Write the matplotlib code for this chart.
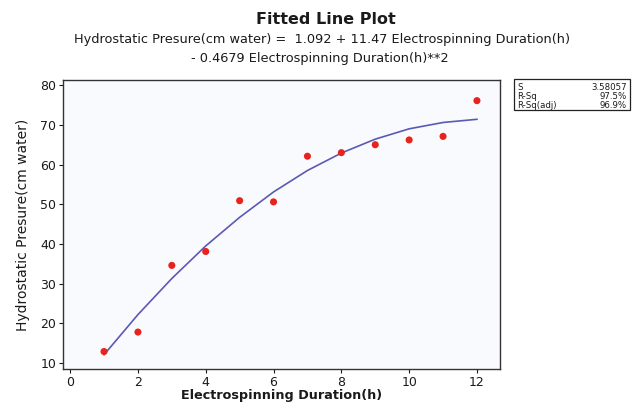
import matplotlib.pyplot as plt
from matplotlib.patches import Rectangle

duration = [1, 2, 3, 4, 5, 6, 7, 8, 9, 10, 11, 12]
pressure = [12.9, 17.8, 34.6, 38.1, 50.9, 50.6, 62.1, 63.0, 65.0, 66.2, 67.1, 76.1]
fitted = [12.1, 22.2, 31.3, 39.5, 46.7, 53.1, 58.5, 62.9, 66.4, 69.0, 70.6, 71.4]

x_ticks = [0, 2, 4, 6, 8, 10, 12]
y_ticks = [10, 20, 30, 40, 50, 60, 70, 80]

stat_labels = ["S", "R-Sq", "R-Sq(adj)"]
stat_values = ["3.58057", "97.5%", "96.9%"]

W, H = 635, 411

COLORS = {
    "point": "#E8231E",
    "line": "#5A5AB4",
    "text": "#1A1A1A",
    "axes_bg": "#F9FAFD",
}


def main():
    fig = plt.figure(figsize=(W / 100, H / 100), dpi=100)
    fig.patch.set_facecolor("white")

    left, right, top, bottom = 63, 500, 80, 369
    ax = fig.add_axes([left / W, 1 - bottom / H, (right - left) / W, (bottom - top) / H])
    ax.set_facecolor(COLORS["axes_bg"])

    ax.plot(duration, fitted, color=COLORS["line"], lw=1.2, zorder=2)
    ax.scatter(duration, pressure, s=26, color=COLORS["point"], edgecolors="none", zorder=3)

    ax.set_xlim(-0.21, 12.68)
    ax.set_ylim(8.5, 81.3)
    ax.set_xticks(x_ticks)
    ax.set_yticks(y_ticks)
    ax.tick_params(labelsize=9, length=3, width=0.8, colors=COLORS["text"], pad=2)
    for sp in ax.spines.values():
        sp.set_linewidth(1.0)
        sp.set_color("#333333")

    ax.set_xlabel("Electrospinning Duration(h)", fontsize=9.2, fontweight="semibold",
                  color=COLORS["text"], labelpad=0)
    ax.set_ylabel("Hydrostatic Presure(cm water)", fontsize=10, fontweight="medium",
                  color=COLORS["text"], labelpad=7)

    # titles
    fig.text(326 / W, 1 - 19 / H, "Fitted Line Plot", ha="center", va="center",
             fontsize=11.5, fontweight="bold", color=COLORS["text"])
    fig.text(322 / W, 1 - 40 / H,
             "Hydrostatic Presure(cm water) =  1.092 + 11.47 Electrospinning Duration(h)",
             ha="center", va="center", fontsize=9.3, color=COLORS["text"])
    fig.text(320 / W, 1 - 58 / H, "- 0.4679 Electrospinning Duration(h)**2",
             ha="center", va="center", fontsize=9.3, color=COLORS["text"])

    # stats box
    bx0, by0, bx1, by1 = 514, 79, 630, 110
    fig.patches.append(Rectangle((bx0 / W, 1 - by1 / H), (bx1 - bx0) / W, (by1 - by0) / H,
                                 transform=fig.transFigure, facecolor="white",
                                 edgecolor="#222222", lw=0.9))
    for i, (lab, val) in enumerate(zip(stat_labels, stat_values)):
        yy = 1 - (87.5 + i * 8.8) / H
        fig.text(517 / W, yy, lab, ha="left", va="center", fontsize=6.2, color=COLORS["text"])
        fig.text(627 / W, yy, val, ha="right", va="center", fontsize=6.2, color=COLORS["text"])

    fig.savefig("out.png", dpi=100)


if __name__ == "__main__":
    main()
